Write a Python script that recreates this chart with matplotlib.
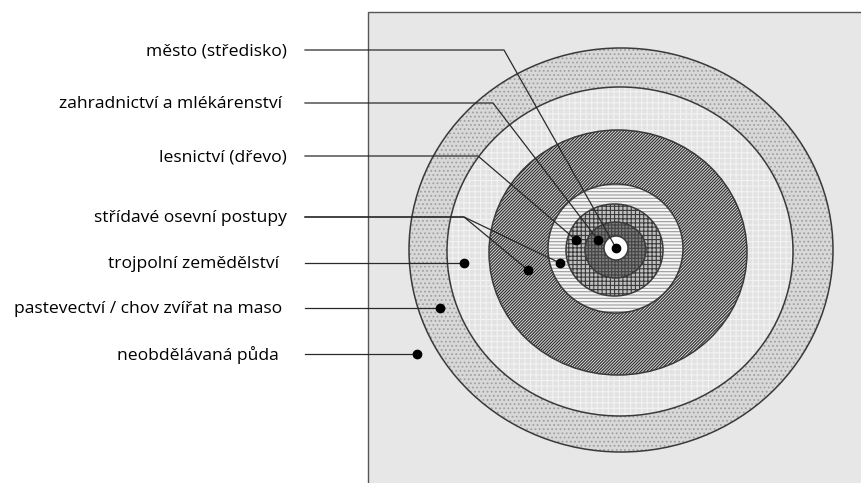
import matplotlib
matplotlib.use("Agg")
from matplotlib import pyplot as plt
from matplotlib.patches import Ellipse, Rectangle

plt.rcParams['font.family'] = ['Open Sans', 'DejaVu Sans']
plt.rcParams['hatch.linewidth'] = 0.8

# label texts (top to bottom) and where their leader lines end
labels = ["město (středisko)", "zahradnictví a mlékárenství", "lesnictví (dřevo)",
          "střídavé osevní postupy", "trojpolní zemědělství",
          "pastevectví / chov zvířat na maso", "neobdělávaná půda"]
label_y = [50, 103, 156, 217, 263, 308, 354]
label_right = [287, 282, 287, 287, 279, 282, 279]
bend_x = [504, 493, 478, 464, None, None, None]
# target dots of each label (one or two)
dots = [[(616, 248)], [(598, 240)], [(576, 240)],
        [(560, 263), (528, 270)], [(464, 263)], [(440, 308)], [(417, 354)]]

# zones from outside to inside: centre x, centre y, half width, half height
zone_cx = [621, 620, 618, 615.5, 614.5, 615.5, 616]
zone_cy = [250, 251.5, 252.5, 248.5, 250, 250, 248]
zone_rx = [212, 173, 129, 67.5, 48.5, 30.5, 12]
zone_ry = [202, 164.5, 122.5, 64.5, 46, 28, 12]
zone_face = ["#d8d8d8", "#e2e2e2", "#d6d6d6", "#f6f6f6", "#c0c0c0", "#7e7e7e", "#ffffff"]
zone_hatch = ["....", "+++", "/" * 11, "-----", "++++", "+++++", None]
zone_hcol = ["#a0a0a0", "#f2f2f2", "#2a2a2a", "#9a9a9a", "#3a3a3a", "#444444", "#888888"]

fig = plt.figure(figsize=(8.61, 4.83), dpi=100)
ax = fig.add_axes([0, 0, 1, 1])
ax.set_xlim(0, 861)
ax.set_ylim(483, 0)
ax.axis("off")

ax.add_patch(Rectangle((368, 12), 540, 500, facecolor="#e7e7e7",
                       edgecolor="#555555", lw=1.0, zorder=1))

for i in range(len(zone_rx)):
    w, h = 2 * zone_rx[i], 2 * zone_ry[i]
    ax.add_patch(Ellipse((zone_cx[i], zone_cy[i]), w, h, facecolor=zone_face[i],
                         edgecolor=zone_hcol[i], hatch=zone_hatch[i], lw=0,
                         zorder=2 + i))
    ax.add_patch(Ellipse((zone_cx[i], zone_cy[i]), w, h, fill=False,
                         edgecolor="#3a3a3a", lw=1.1, zorder=2 + i))

for i, txt in enumerate(labels):
    y = label_y[i]
    ax.text(label_right[i], y + 1, txt, ha="right", va="center",
            fontsize=12.6, color="#000000", zorder=20)
    for (dx, dy) in dots[i]:
        if bend_x[i] is None:
            xs, ys = [305, dx], [y, dy]
        else:
            xs, ys = [305, bend_x[i], dx], [y, y, dy]
        ax.plot(xs, ys, color="#2a2a2a", lw=0.9, zorder=15)
        ax.plot(dx, dy, "o", color="black", ms=6, zorder=16)

fig.savefig("out.png", dpi=100)
